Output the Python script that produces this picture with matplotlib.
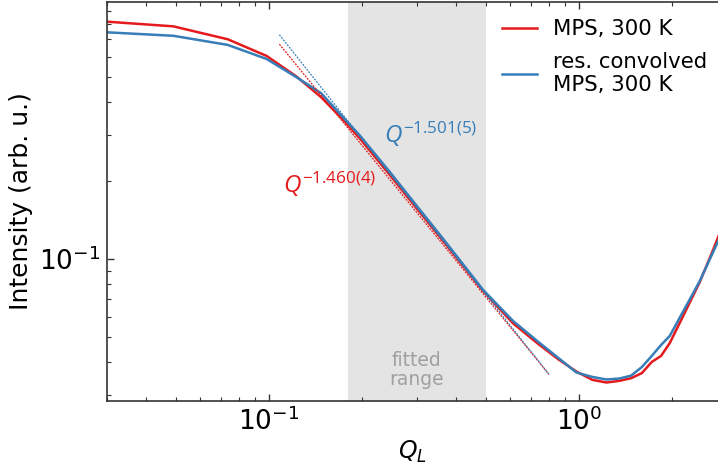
import numpy as np
import matplotlib
matplotlib.use("Agg")
import matplotlib.pyplot as plt
from matplotlib.ticker import NullFormatter

# Q grid (2*pi/256 steps, subset) and structure factor curves
q = [0.0245, 0.0491, 0.0736, 0.0982, 0.1227, 0.1473, 0.1718, 0.1963,
     0.2454, 0.2945, 0.3682, 0.4909, 0.6136, 0.7363, 0.8590, 0.9818,
     1.1045, 1.2272, 1.3499, 1.4726, 1.5953, 1.7181, 1.8408, 1.9635,
     2.2089, 2.4544, 2.6998, 2.8225]
mps_300 = [0.832, 0.785, 0.700, 0.604, 0.503, 0.419, 0.347, 0.291,
           0.2105, 0.1606, 0.1155, 0.0753, 0.0565, 0.0473, 0.0411, 0.0369,
           0.0343, 0.0335, 0.0340, 0.0348, 0.0364, 0.0402, 0.0424, 0.0475,
           0.0631, 0.0816, 0.1073, 0.1226]
mps_300_conv = [0.754, 0.722, 0.666, 0.588, 0.500, 0.434, 0.355, 0.2985,
                0.216, 0.1643, 0.1178, 0.0760, 0.0577, 0.0482, 0.0416, 0.0366,
                0.0352, 0.0344, 0.0347, 0.0356, 0.0384, 0.0424, 0.0467, 0.0506,
                0.0654, 0.0823, 0.1054, 0.118]

# power-law fits
fit_range = [0.18, 0.5]
fit_q = [0.108, 0.80]
exp_mps, amp_mps = 1.460, 0.0260
exp_conv, amp_conv = 1.501, 0.0258

red = "#e41a1c"
blue = "#377eb8"

plt.rcParams["mathtext.rm"] = "Open Sans"
plt.rcParams["mathtext.it"] = "Open Sans:italic"

fig = plt.figure(figsize=(7.18, 4.66), dpi=100)
ax = fig.add_axes([107 / 718, 65 / 466, 611 / 718, 399 / 466])

ax.axvspan(fit_range[0], fit_range[1], color="#e4e4e4", lw=0, zorder=0)

ax.plot(q, mps_300, color=red, lw=1.8, label="MPS, 300 K")
ax.plot(q, mps_300_conv, color=blue, lw=1.8, label="res. convolved\nMPS, 300 K")

qf = np.geomspace(fit_q[0], fit_q[1], 50)
ax.plot(qf, amp_mps * qf ** -exp_mps, color=red, lw=0.9, ls=(0, (1.5, 1)))
ax.plot(qf, amp_conv * qf ** -exp_conv, color=blue, lw=0.9, ls=(0, (1.5, 1)))

ax.set_xscale("log")
ax.set_yscale("log")
ax.set_xlim(0.030, 2.81)
ax.set_ylim(0.02844, 0.9738)

ax.text(0.111, 0.1795, r"$Q^{-1.460(4)}$", color=red, fontsize=17.5,
        math_fontfamily="custom", ha="left", va="baseline")
ax.text(0.235, 0.279, r"$Q^{-1.501(5)}$", color=blue, fontsize=17.5,
        math_fontfamily="custom", ha="left", va="baseline")
ax.text(0.30, 0.078, "fitted\nrange", color="#a0a0a0", fontsize=13.5,
        ha="center", va="center", linespacing=1.05,
        transform=ax.get_xaxis_transform())

ax.set_xlabel(r"$Q_L$", fontsize=17, labelpad=2)
ax.set_ylabel("Intensity (arb. u.)", fontsize=18, labelpad=4)

ax.tick_params(which="both", direction="in", top=True, right=False,
               labelsize=19, color="#333333")
ax.tick_params(which="major", length=5, width=1, pad=5)
ax.tick_params(which="minor", length=3, width=0.8)
ax.xaxis.set_minor_formatter(NullFormatter())
ax.yaxis.set_minor_formatter(NullFormatter())
for s in ax.spines.values():
    s.set_color("#333333")
    s.set_linewidth(1.2)
ax.spines["right"].set_visible(False)

ax.legend(loc="upper left", bbox_to_anchor=(0.6465, 0.957), frameon=False,
          fontsize=15.3, handlelength=1.65, borderpad=0, borderaxespad=0,
          labelspacing=0.6, handletextpad=0.75)

fig.savefig("out.png", dpi=100)
